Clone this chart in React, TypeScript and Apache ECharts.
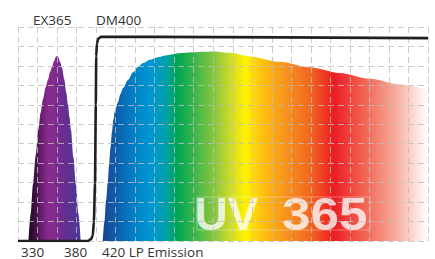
import React, { useEffect, useRef } from 'react';
import * as echarts from 'echarts';

// Excitation filter EX365 (wavelength nm, relative transmission)
const exNm = [339.5, 341.5, 343.5, 346, 348.3, 350.5, 352.6, 355, 357.1, 359, 360.7, 362.5, 364, 365.2, 366.5, 368, 369.7, 371.8, 373.5, 375.1, 376.5, 377.8, 380, 382.3, 384.5, 386.6];
const exVal = [0, 14, 29, 44, 57, 66, 73, 79, 83, 87, 89.5, 92.5, 94.5, 95.2, 94.5, 92, 89, 83, 76.5, 70, 63.5, 57, 43, 29, 14, 0];

// Dichroic mirror DM400
const dmNm = [330, 393, 396, 397.5, 398.5, 399.5, 400.2, 400.6, 401.2, 402.5, 405, 450, 700];
const dmVal = [0, 0, 1, 3, 10, 30, 70, 95, 101.5, 104, 104.9, 104.9, 104.3];

// 420 LP emission
const emNm = [406.5, 408, 409.5, 411, 412.2, 413.5, 414.8, 416, 417.5, 420.3, 422.5, 424.8, 429.3, 433.8, 438.3, 443, 449, 456, 463, 476, 487, 500, 508, 521, 539, 566, 593, 620, 648, 675, 700];
const emVal = [0, 10, 21, 30, 39, 48, 56, 62, 67, 71.5, 75.5, 78.6, 82.8, 86.7, 89.6, 91.5, 93.2, 94.5, 95.4, 96.5, 97, 97.3, 97.4, 96.7, 94.9, 92.1, 89.3, 86.4, 83.4, 80.4, 77.6];

const emOffsets = [0, 0.046, 0.1, 0.145, 0.19, 0.23, 0.28, 0.346, 0.4, 0.44, 0.49, 0.56, 0.64, 0.71, 0.79, 0.886, 1];
const emColors = ['#1a4592', '#0c62ae', '#0083c8', '#0095d5', '#00a0b0', '#00a651', '#39b54a', '#8dc63f', '#d7df23', '#fff200', '#fdc10e', '#f7941d', '#f26522', '#ed1c24', '#f15a4a', '#f6a08e', '#ffffff'];

const exOffsets = [0, 0.12, 0.25, 0.38, 0.5, 0.65, 0.8, 1];
const exColors = ['#1a0b1c', '#3a1040', '#6a1f72', '#8a2a8e', '#822c8e', '#6b2d8f', '#5a3292', '#4a3a98'];

const topLabels = ['EX365', 'DM400'];
const topLabelX = [33, 96];
const bottomLabels = ['330', '380', '420 LP Emission'];
const bottomLabelX = [21, 64, 102];

const zip = (a: number[], b: number[]) => a.map((v, i) => [v, b[i]]);
const stops = (o: number[], c: string[]) => o.map((offset, i) => ({ offset, color: c[i] }));

export default function App() {
  const ref = useRef<HTMLDivElement>(null);
  useEffect(() => {
    if (!ref.current) return;
    const chart = echarts.init(ref.current, undefined, { renderer: 'svg' });
    const gridLine = { show: true, lineStyle: { color: 'rgba(190,190,190,0.8)', width: 1, type: [6, 4] as any } };
    const labelFont = { fontFamily: 'Open Sans', fontSize: 13.5, fill: '#333' };
    chart.setOption({
      animation: false,
      backgroundColor: '#ffffff',
      grid: { left: 18, right: 7, top: 27, bottom: 18 },
      xAxis: [
        { type: 'value', min: 330, max: 700, show: false },
        { type: 'value', min: 0, max: 21, interval: 1, z: 5, axisLine: { show: false }, axisTick: { show: false }, axisLabel: { show: false }, splitLine: gridLine },
      ],
      yAxis: [
        { type: 'value', min: 0, max: 110, interval: 10, z: 5, axisLine: { show: false }, axisTick: { show: false }, axisLabel: { show: false }, splitLine: gridLine },
      ],
      series: [
        {
          type: 'line', xAxisIndex: 0, data: zip(exNm, exVal), smooth: 0.3, smoothMonotone: 'x', showSymbol: false,
          lineStyle: { width: 0 }, z: 2,
          areaStyle: { opacity: 1, color: new echarts.graphic.LinearGradient(0, 0, 1, 0, stops(exOffsets, exColors)) },
        },
        {
          type: 'line', xAxisIndex: 0, data: zip(emNm, emVal), smooth: 0.3, smoothMonotone: 'x', showSymbol: false,
          lineStyle: { width: 0 }, z: 2,
          areaStyle: { opacity: 1, color: new echarts.graphic.LinearGradient(0, 0, 1, 0, stops(emOffsets, emColors)) },
        },
        {
          type: 'line', xAxisIndex: 0, data: zip(dmNm, dmVal), smooth: 0.2, smoothMonotone: 'x', showSymbol: false,
          lineStyle: { width: 2.6, color: '#231f20' }, z: 10,
        },
      ],
      graphic: [
        ...topLabels.map((t, i) => ({ type: 'text', x: topLabelX[i], y: 20, style: { text: t, ...labelFont, verticalAlign: 'middle' } })),
        ...bottomLabels.map((t, i) => ({ type: 'text', x: bottomLabelX[i], y: 251.5, style: { text: t, ...labelFont, verticalAlign: 'middle' } })),
        { type: 'rect', z: 3, shape: { x: 197, y: 197, width: 173, height: 33 }, style: { fill: 'none', stroke: 'rgba(255,255,255,0.35)', lineWidth: 1 } },
        { type: 'text', z: 3, x: 194.5, y: 214, style: { text: 'UV', fontFamily: 'Liberation Sans', fontWeight: 'bold', fontSize: 46, fill: 'rgba(255,255,255,0.78)', verticalAlign: 'middle' } },
        { type: 'text', z: 3, x: 282, y: 214, scaleX: 1.115, style: { text: '365', fontFamily: 'Liberation Sans', fontWeight: 'bold', fontSize: 46, fill: 'rgba(255,255,255,0.78)', verticalAlign: 'middle' } },
      ],
    });
    return () => chart.dispose();
  }, []);
  return <div ref={ref} style={{ position: 'fixed', left: 0, top: 0, width: 435, height: 259 }} />;
}
